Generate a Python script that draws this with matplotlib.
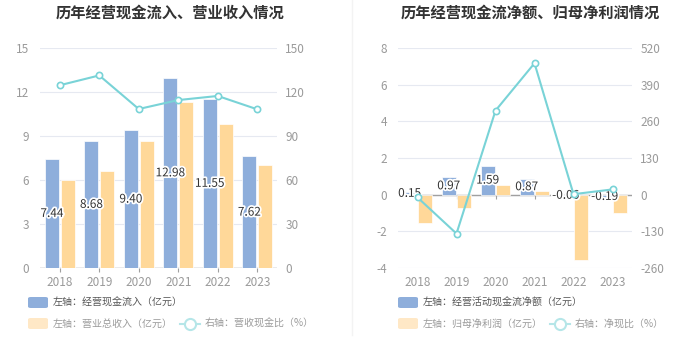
import matplotlib
matplotlib.use('Agg')
import matplotlib.pyplot as plt
import matplotlib.patheffects as pe
from matplotlib.patches import FancyBboxPatch
from matplotlib.lines import Line2D
import numpy as np

plt.rcParams['font.family'] = ['Noto Sans CJK SC', 'DejaVu Sans']

# data
years = ['2018', '2019', '2020', '2021', '2022', '2023']
cash_in = [7.44, 8.68, 9.40, 12.98, 11.55, 7.62]
revenue = [5.97, 6.61, 8.67, 11.34, 9.85, 7.04]
cash_ratio = [124.6, 131.3, 108.4, 114.5, 117.3, 108.2]

net_cash = [0.15, 0.97, 1.59, 0.87, -0.06, -0.19]
net_profit = [-1.56, -0.72, 0.53, 0.19, -3.56, -1.02]
net_ratio = [-9.8, -138, 298, 466, 1.7, 18.6]

BLUE = '#8eaedb'
ORANGE = '#ffd899'
TEAL = '#79d3d7'
GRID = '#e6e9f1'
TICK = '#9a9a9a'

W, H = 700, 360
fig = plt.figure(figsize=(7, 3.6), dpi=100)


def px(x, y):
    return x / W, 1 - y / H


def panel(x0, x1, title, tcx, b1, b2, line, ylim, yticks, y2lim, y2ticks, legend):
    ax = fig.add_axes([x0 / W, 1 - 268 / H, (x1 - x0) / W, 220 / H])
    ax2 = ax.twinx()
    x = np.arange(len(years))
    w = 0.355
    ax.bar(x - 0.2, b1, w, color=BLUE, edgecolor='white', linewidth=0.5, zorder=3)
    ax.bar(x + 0.2, b2, w, color=ORANGE, edgecolor='white', linewidth=0.5, zorder=3)
    ax.set_xlim(-0.5, len(years) - 0.5)
    ax.set_ylim(*ylim)
    ax.set_yticks(yticks)
    ax.set_yticklabels([str(t) for t in yticks])
    for t in yticks:
        ax.axhline(t, color=GRID, lw=0.8, zorder=1)
    ax.axhline(0, color='#a0a0a0', lw=1, zorder=2)
    ax.vlines(x, 0, -(ylim[1] - ylim[0]) * 4 / 220, color='#a0a0a0', lw=0.8,
              zorder=2, clip_on=False)
    ax.set_xticks(x)
    ax.set_xticklabels(years)
    ax.tick_params(axis='x', length=0, pad=6, labelsize=8.5, labelcolor=TICK)
    ax.tick_params(axis='y', length=0, pad=8, labelsize=8.5, labelcolor=TICK)
    for s in ax.spines.values():
        s.set_visible(False)
    for i, v in enumerate(b1):
        ax.text(x[i] - 0.2, v / 2, f'{v:.2f}', ha='center', va='center',
                fontsize=8.5, color='#333333', zorder=10,
                path_effects=[pe.withStroke(linewidth=2.5, foreground='white')])

    ax2.plot(x, line, color=TEAL, lw=1.5, marker='o', ms=4.5,
             mfc='white', mec=TEAL, mew=1.2, zorder=5)
    ax2.set_ylim(*y2lim)
    ax2.set_yticks(y2ticks)
    ax2.set_yticklabels([str(t) for t in y2ticks])
    ax2.tick_params(axis='y', length=0, pad=6, labelsize=8.5, labelcolor=TICK)
    for s in ax2.spines.values():
        s.set_visible(False)

    fig.text(*px(tcx, 13), title, ha='center', va='center', fontsize=11,
             fontweight='bold', color='#333333')

    # legend
    (lx, t1, t2, lx2, t3) = legend
    tr = fig.transFigure
    fig.patches.append(FancyBboxPatch(px(lx, 308), 20 / W, 11 / H,
                                      boxstyle='round,pad=0,rounding_size=0.004',
                                      facecolor=BLUE, edgecolor='none', transform=tr))
    fig.text(*px(lx + 25, 302.5), t1, ha='left', va='center', fontsize=7.2,
             color='#555555')
    fig.patches.append(FancyBboxPatch(px(lx, 329), 20 / W, 11 / H,
                                      boxstyle='round,pad=0,rounding_size=0.004',
                                      facecolor='#ffe8c6', edgecolor='none', transform=tr))
    fig.text(*px(lx + 25, 323.5), t2, ha='left', va='center', fontsize=7.2,
             color='#9a9a9a')
    a, yy = px(lx2, 323.5)
    b, _ = px(lx2 + 20, 323.5)
    fig.lines.append(Line2D([a, b], [yy, yy], color='#b5e6e8', lw=1.5, transform=tr))
    fig.lines.append(Line2D([(a + b) / 2], [yy], marker='o', ms=8, mfc='white',
                            mec='#b5e6e8', mew=1.5, transform=tr))
    fig.text(*px(lx2 + 25, 323.5), t3, ha='left', va='center', fontsize=7.2,
             color='#9a9a9a')
    return ax


panel(40, 277, '历年经营现金流入、营业收入情况', 170, cash_in, revenue, cash_ratio,
      (0, 15), [0, 3, 6, 9, 12, 15], (0, 150), [0, 30, 60, 90, 120, 150],
      (28, '左轴：经营现金流入（亿元）', '左轴：营业总收入（亿元）', 180,
       '右轴：营收现金比（%）'))

panel(398, 632, '历年经营现金流净额、归母净利润情况', 530, net_cash, net_profit, net_ratio,
      (-4, 8), [-4, -2, 0, 2, 4, 6, 8], (-260, 520),
      [-260, -130, 0, 130, 260, 390, 520],
      (398, '左轴：经营活动现金流净额（亿元）', '左轴：归母净利润（亿元）', 550,
       '右轴：净现比（%）'))

fig.lines.append(Line2D([352 / W, 352 / W], [1, 1 - 335 / H], color='#f3f3f3',
                        lw=1.0, transform=fig.transFigure))

fig.savefig('out.png', dpi=100)
